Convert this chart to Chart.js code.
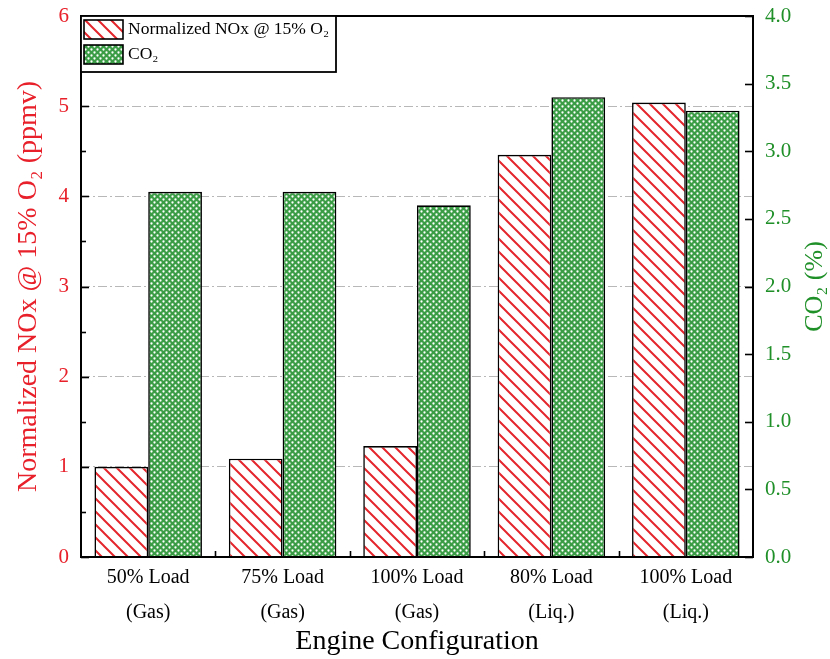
<!DOCTYPE html>
<html>
<head>
<meta charset="utf-8">
<script src="https://cdn.jsdelivr.net/npm/chart.js@4/dist/chart.umd.min.js"></script>
<style>
html,body{margin:0;padding:0;background:#fff;}
#wrap{width:830px;height:659px;position:relative;}
</style>
</head>
<body>
<div id="wrap"><canvas id="c" width="830" height="659"></canvas></div>
<script>
const categories = [["50% Load","(Gas)"],["75% Load","(Gas)"],["100% Load","(Gas)"],["80% Load","(Liq.)"],["100% Load","(Liq.)"]];
const noxValues = [1.00, 1.09, 1.23, 4.46, 5.04];
const co2Values = [2.70, 2.70, 2.60, 3.40, 3.30];
const seriesLabels = ["Normalized NOx @ 15% O\u2082", "CO\u2082"];
const leftTicks = [0,1,2,3,4,5,6];
const rightTicks = [0.0,0.5,1.0,1.5,2.0,2.5,3.0,3.5,4.0];
const rightTitle = "CO\u2082 (%)";

const RED = '#e8202a';
const GREEN = '#1f8f28';
const FONT = "'Liberation Serif', 'Times New Roman', serif";

function redHatch(){
  const s = 13, c = document.createElement('canvas');
  c.width = s; c.height = s;
  const g = c.getContext('2d');
  g.fillStyle = '#fff'; g.fillRect(0,0,s,s);
  g.strokeStyle = '#e4262c'; g.lineWidth = 2;
  g.beginPath();
  g.moveTo(-2,-2); g.lineTo(s+2,s+2);
  g.moveTo(-2,s-2); g.lineTo(2,s+2);
  g.moveTo(s-2,-2); g.lineTo(s+2,2);
  g.stroke();
  return g.createPattern(c,'repeat');
}
function greenHatch(){
  const s = 6, c = document.createElement('canvas');
  c.width = s; c.height = s;
  const g = c.getContext('2d');
  g.fillStyle = '#3a9d45'; g.fillRect(0,0,s,s);
  g.fillStyle = '#ffffff';
  g.beginPath(); g.arc(1.5,1.5,1.15,0,Math.PI*2); g.fill();
  g.beginPath(); g.arc(4.5,4.5,1.15,0,Math.PI*2); g.fill();
  return g.createPattern(c,'repeat');
}
const redPat = redHatch();
const greenPat = greenHatch();

const framePlugin = {
  id: 'frame',
  afterDraw(chart){
    const {ctx, chartArea:a, scales} = chart;
    ctx.save();
    ctx.strokeStyle = '#000';
    ctx.lineWidth = 1.6;
    const y = scales.y;
    for (let v = 0; v <= 6.001; v += 0.5){
      const p = Math.round(y.getPixelForValue(v)) + 0.5;
      const len = (Math.abs(v - Math.round(v)) < 1e-6) ? 8 : 5;
      ctx.beginPath(); ctx.moveTo(a.left, p); ctx.lineTo(a.left + len, p); ctx.stroke();
    }
    const y1 = scales.y1;
    for (const v of rightTicks){
      const p = Math.round(y1.getPixelForValue(v)) + 0.5;
      ctx.beginPath(); ctx.moveTo(a.right, p); ctx.lineTo(a.right - 8, p); ctx.stroke();
    }
    const x = scales.x;
    for (let i = 0; i < categories.length - 1; i++){
      const p = Math.round((x.getPixelForValue(i) + x.getPixelForValue(i+1))/2) + 0.5;
      ctx.beginPath(); ctx.moveTo(p, a.bottom); ctx.lineTo(p, a.bottom - 6); ctx.stroke();
    }
    ctx.lineWidth = 2;
    ctx.strokeRect(a.left, a.top, a.right - a.left, a.bottom - a.top);

    // right axis title, reading upward
    ctx.save();
    ctx.translate(815, (a.top + a.bottom) / 2);
    ctx.rotate(-Math.PI/2);
    ctx.fillStyle = GREEN;
    ctx.font = '26px ' + FONT;
    ctx.textAlign = 'center';
    ctx.textBaseline = 'middle';
    ctx.fillText(rightTitle, 0, 0);
    ctx.restore();

    // legend box
    const lx = a.left, ly = a.top, lw = 255, lh = 56;
    ctx.fillStyle = '#fff';
    ctx.fillRect(lx, ly, lw, lh);
    ctx.lineWidth = 1.8;
    ctx.strokeRect(lx, ly, lw, lh);
    const pats = [redPat, greenPat];
    for (let i = 0; i < 2; i++){
      const sy = ly + 4 + i*25;
      ctx.fillStyle = pats[i];
      ctx.fillRect(lx + 3, sy, 39, 19);
      ctx.lineWidth = 1.6;
      ctx.strokeRect(lx + 3, sy, 39, 19);
      ctx.fillStyle = '#000';
      ctx.font = '17.5px ' + FONT;
      ctx.textBaseline = 'middle';
      ctx.textAlign = 'left';
      ctx.fillText(seriesLabels[i], lx + 47, sy + 9.5);
    }
    ctx.restore();
  }
};

function zeroVPad(s){ s.paddingTop = 0; s.paddingBottom = 0; }

new Chart(document.getElementById('c'), {
  type: 'bar',
  data: {
    labels: categories,
    datasets: [
      { label: seriesLabels[0], data: noxValues, yAxisID: 'y', backgroundColor: redPat, borderColor: '#000', borderWidth: 1.6 },
      { label: seriesLabels[1], data: co2Values, yAxisID: 'y1', backgroundColor: greenPat, borderColor: '#000', borderWidth: 1.6 }
    ]
  },
  options: {
    responsive: false,
    animation: false,
    devicePixelRatio: 1,
    layout: { padding: { top: 16, left: 0, right: 0, bottom: 0 } },
    datasets: { bar: { categoryPercentage: 0.8, barPercentage: 1.0 } },
    plugins: { legend: { display: false }, tooltip: { enabled: false } },
    scales: {
      x: {
        grid: { display: false },
        border: { display: false },
        ticks: { color: '#000', font: { family: FONT, size: 20, lineHeight: 1.75 }, padding: -5, maxRotation: 0, autoSkip: false },
        title: { display: true, text: 'Engine Configuration', color: '#000', font: { family: FONT, size: 28 }, padding: { top: 0, bottom: 1 } },
        afterFit(s){ s.height = 102; s.paddingLeft = 0; s.paddingRight = 0; }
      },
      y: {
        position: 'left', min: 0, max: 6,
        afterBuildTicks(s){ s.ticks = leftTicks.map(v => ({value: v})); },
        grid: {
          drawTicks: false,
          color: ctx => (ctx.tick && (ctx.tick.value === 0 || ctx.tick.value === 6)) ? 'rgba(0,0,0,0)' : '#b8b8b8',
          lineWidth: 1
        },
        border: { display: false, dash: [9,3,2,3] },
        ticks: { color: RED, font: { family: FONT, size: 21 }, padding: 12 },
        title: { display: true, text: 'Normalized NOx @ 15% O\u2082 (ppmv)', color: RED, font: { family: FONT, size: 28 }, padding: { top: 12, bottom: 0 } },
        afterFit(s){ s.width = 81; zeroVPad(s); }
      },
      y1: {
        position: 'right', min: 0, max: 4,
        afterBuildTicks(s){ s.ticks = rightTicks.map(v => ({value: v})); },
        grid: { drawOnChartArea: false, drawTicks: false },
        border: { display: false },
        ticks: { color: GREEN, font: { family: FONT, size: 21 }, padding: 12, callback: v => Number(v).toFixed(1) },
        title: { display: false },
        afterFit(s){ s.width = 77; zeroVPad(s); }
      }
    }
  },
  plugins: [framePlugin]
});
</script>
</body>
</html>
